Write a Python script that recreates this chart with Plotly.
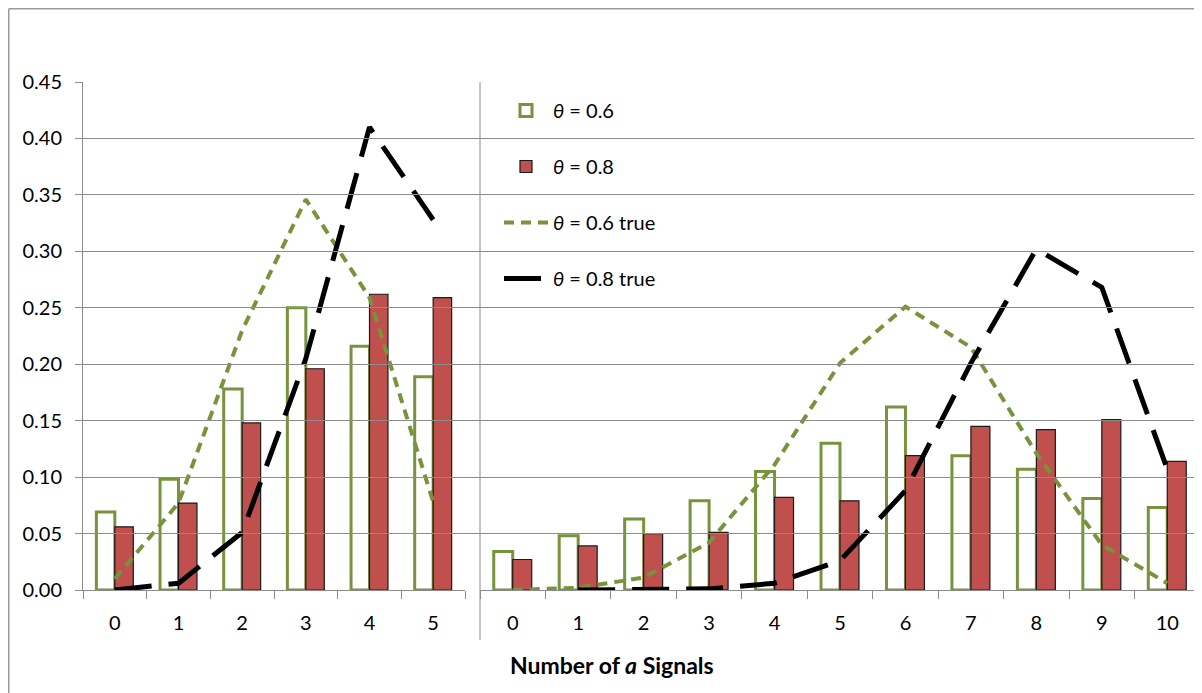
import plotly.graph_objects as go

# ---------------- data ----------------
cats_left = ["0", "1", "2", "3", "4", "5"]
cats_right = ["0", "1", "2", "3", "4", "5", "6", "7", "8", "9", "10"]

left_06 = [0.069, 0.098, 0.178, 0.250, 0.216, 0.189]
left_08 = [0.056, 0.077, 0.148, 0.196, 0.262, 0.259]
left_06_true = [0.010, 0.077, 0.230, 0.346, 0.259, 0.078]
left_08_true = [0.000, 0.006, 0.051, 0.205, 0.410, 0.328]

right_06 = [0.034, 0.048, 0.063, 0.079, 0.105, 0.130, 0.162, 0.119, 0.107, 0.081, 0.073]
right_08 = [0.027, 0.039, 0.050, 0.051, 0.082, 0.079, 0.119, 0.145, 0.142, 0.151, 0.114]
right_06_true = [0.000, 0.002, 0.011, 0.042, 0.111, 0.201, 0.251, 0.215, 0.121, 0.040, 0.006]
right_08_true = [None, 0.000, 0.000, 0.001, 0.006, 0.026, 0.088, 0.201, 0.302, 0.268, 0.107]

y_ticks = [0.00, 0.05, 0.10, 0.15, 0.20, 0.25, 0.30, 0.35, 0.40, 0.45]

names = ["<i>θ</i> = 0.6", "<i>θ</i> = 0.8", "<i>θ</i> = 0.6 true", "<i>θ</i> = 0.8 true"]

# ---------------- style ----------------
GREEN = "#77933C"
RED = "#C0504D"
GRID = "#8C8C8C"
FONT = "Lato"
FS = 20

OFF = 8  # page body margin: screen px = figure px + OFF
W, H = 1202, 693
# plot area in screen px: x 83..1200, y 82..590
L, T = 83 - OFF, 82 - OFF
R = W - (1200 - OFF)
B = H - (590 - OFF)
PW = W - L - R
PH = H - T - B


def px_x(p):  # screen px -> paper
    return (p - OFF - L) / PW


def px_y(p):
    return (H - B - (p - OFF)) / PH


fig = go.Figure()

groups = [("x", cats_left, left_06, left_08, left_06_true, left_08_true),
          ("x2", cats_right, right_06, right_08, right_06_true, right_08_true)]

for i, (xa, cats, b6, b8, t6, t8) in enumerate(groups):
    show = i == 0
    fig.add_trace(go.Bar(x=cats, y=b6, name=names[0], xaxis=xa, yaxis="y",
                         marker=dict(color="white", line=dict(color=GREEN, width=3)),
                         legendgroup="g0", showlegend=show))
    fig.add_trace(go.Bar(x=cats, y=b8, name=names[1], xaxis=xa, yaxis="y",
                         marker=dict(color=RED, line=dict(color="#1a1a1a", width=1.2)),
                         legendgroup="g1", showlegend=show))
for i, (xa, cats, b6, b8, t6, t8) in enumerate(groups):
    show = i == 0
    fig.add_trace(go.Scatter(x=cats, y=t6, name=names[2], xaxis=xa, yaxis="y",
                             mode="lines", line=dict(color=GREEN, width=4, dash="10px,7px"),
                             legendgroup="g2", showlegend=show))
    fig.add_trace(go.Scatter(x=cats, y=t8, name=names[3], xaxis=xa, yaxis="y",
                             mode="lines", line=dict(color="black", width=5, dash="37px,17px"),
                             legendgroup="g3", showlegend=show))

# dummy full-width subplot so the horizontal gridlines run continuously
fig.add_trace(go.Scatter(x=[0, 1], y=[None, None], xaxis="x3", yaxis="y",
                         mode="lines", showlegend=False, hoverinfo="skip"))

axis_common = dict(type="category", tickson="boundaries", ticks="outside", ticklen=8,
                   tickcolor=GRID, showline=True, linecolor=GRID, linewidth=1,
                   showgrid=False, ticklabelstandoff=15,
                   tickfont=dict(family=FONT, size=FS, color="black"),
                   fixedrange=True)

fig.update_layout(
    width=W, height=H,
    margin=dict(l=L, r=R, t=T, b=B, pad=0),
    paper_bgcolor="white", plot_bgcolor="rgba(0,0,0,0)",
    barmode="group", bargap=0.42, bargroupgap=0,
    font=dict(family=FONT, size=FS, color="black"),
    xaxis=dict(domain=[0, px_x(465)], anchor="y", **axis_common),
    xaxis2=dict(domain=[px_x(480), 1], anchor="y", **axis_common),
    xaxis3=dict(domain=[0, 1], anchor="y", visible=False, range=[0, 1]),
    yaxis=dict(range=[0, 0.45], tickvals=y_ticks, tickformat=".2f",
               showgrid=True, gridcolor=GRID, gridwidth=1, zeroline=False,
               showline=True, linecolor=GRID, linewidth=1,
               ticks="outside", ticklen=7, tickcolor=GRID,
               ticklabelstandoff=9,
               tickfont=dict(family=FONT, size=FS, color="black")),
    legend=dict(x=px_x(499), y=px_y(91), xanchor="left", yanchor="top",
                bgcolor="rgba(0,0,0,0)", borderwidth=0,
                font=dict(family=FONT, size=FS, color="black"),
                tracegroupgap=27, itemwidth=44, traceorder="grouped"),
    showlegend=True,
)

# separator line between the two groups
fig.add_shape(type="line", xref="x2 domain", yref="paper", x0=0, x1=0,
              y0=px_y(640), y1=1, line=dict(color=GRID, width=1))

# chart-area border (left and top edges of the figure)
fig.add_shape(type="line", xref="paper", yref="paper", x0=px_x(8.75), x1=px_x(8.75),
              y0=px_y(710), y1=px_y(8.75), line=dict(color="#9a9a9a", width=1.5))
fig.add_shape(type="line", xref="paper", yref="paper", x0=px_x(8.75), x1=px_x(1220),
              y0=px_y(8.75), y1=px_y(8.75), line=dict(color="#9a9a9a", width=1.5))

# x-axis title
fig.add_annotation(text="<b>Number of <i>a</i> Signals</b>", xref="paper", yref="paper",
                   x=px_x(612), y=px_y(665), xanchor="center", yanchor="middle",
                   showarrow=False, font=dict(family=FONT, size=23, color="black"))

fig.write_html("out.html")
